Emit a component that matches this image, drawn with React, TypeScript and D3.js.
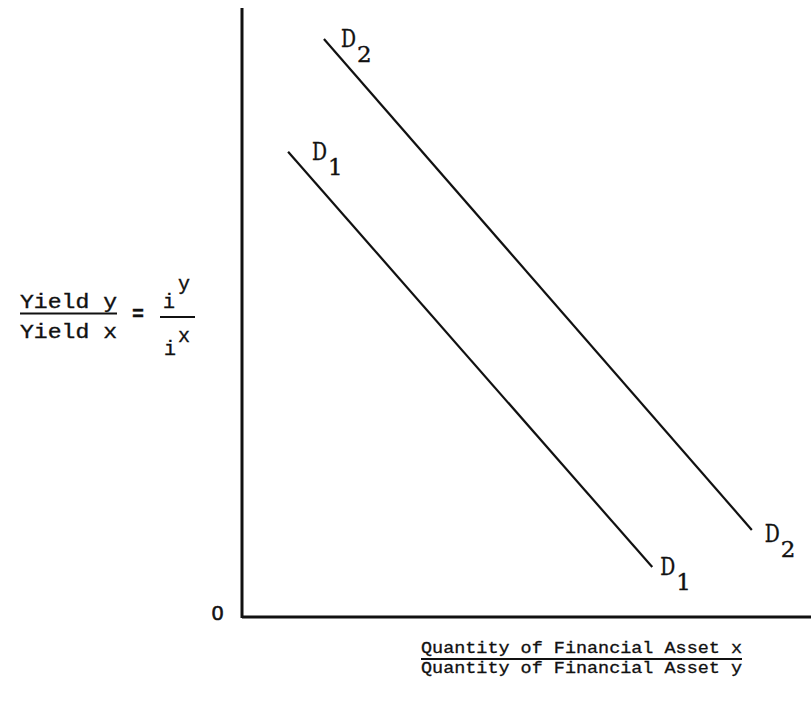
import React from "react";
import * as d3 from "d3";

// ---- data (abstract units: 0..100 on both axes) ----
const curveNames = ["D1", "D2"];
const curveSubs = ["1", "2"];
const d1Points: [number, number][] = [
  [8.1, 76.4],
  [72.1, 8.2],
];
const d2Points: [number, number][] = [
  [14.4, 94.9],
  [89.6, 14.3],
];
const yLabelTop = "Yield y";
const yLabelBottom = "Yield x";
const xLabelTop = "Quantity of Financial Asset x";
const xLabelBottom = "Quantity of Financial Asset y";
const originLabel = "0";

const W = 811;
const H = 701;

export default function App() {
  const x = d3.scaleLinear().domain([0, 100]).range([242, 811]);
  const y = d3.scaleLinear().domain([0, 100]).range([617, 8]);
  const line = d3
    .line<[number, number]>()
    .x((d) => x(d[0]))
    .y((d) => y(d[1]));

  const curves = [d1Points, d2Points];
  const serif = "'DejaVu Serif', 'Liberation Serif', serif";
  const mono = "'Liberation Mono', 'DejaVu Sans Mono', monospace";
  const ink = "#111";

  // label offsets (pixels) relative to line endpoints: [start, end]
  const labelOffsets = [
    [
      [24, 8],
      [8, 8],
    ],
    [
      [17, 8],
      [13, 12],
    ],
  ];

  return (
    <svg
      width={W}
      height={H}
      style={{ position: "absolute", left: 0, top: 0, background: "#fff" }}
    >
      <rect x={0} y={0} width={W} height={H} fill="#fff" />
      {/* axes */}
      <line x1={x(0)} y1={y(100)} x2={x(0)} y2={y(0) + 1} stroke={ink} strokeWidth={3} />
      <line x1={x(0)} y1={y(0)} x2={x(100)} y2={y(0)} stroke={ink} strokeWidth={3} />

      {/* demand curves */}
      {curves.map((pts, i) => (
        <path key={i} d={line(pts) || ""} fill="none" stroke={ink} strokeWidth={2.2} />
      ))}

      {/* curve labels */}
      {curves.map((pts, i) =>
        pts.map((p, j) => {
          const [dx, dy] = labelOffsets[i][j];
          const bx = x(p[0]) + dx;
          const by = y(p[1]) + dy;
          return (
            <text
              key={`${i}-${j}`}
              x={bx}
              y={by}
              fontFamily={serif}
              fill={ink}
              stroke={ink}
              strokeWidth={0.4}
              fontSize={25}
            >
              <tspan textLength={15} lengthAdjust="spacingAndGlyphs">
                {curveNames[i].charAt(0)}
              </tspan>
              <tspan x={bx + 16} dy={15} fontSize={23}>
                {curveSubs[i]}
              </tspan>
            </text>
          );
        })
      )}

      {/* y-axis label */}
      <g fontFamily={mono} fill={ink} stroke={ink} strokeWidth={0.35}>
        <text x={20} y={308} fontSize={19.5} textLength={97} lengthAdjust="spacingAndGlyphs">
          {yLabelTop}
        </text>
        <line x1={20} y1={313.5} x2={117} y2={313.5} stroke={ink} strokeWidth={2} />
        <text x={20} y={338} fontSize={19.5} textLength={97} lengthAdjust="spacingAndGlyphs">
          {yLabelBottom}
        </text>
        <text x={138} y={320} fontSize={20} fontWeight="bold" textAnchor="middle">
          =
        </text>
        <text x={169} y={308} fontSize={20} textAnchor="middle">
          i
        </text>
        <text x={184} y={290} fontSize={20} textAnchor="middle">
          y
        </text>
        <line x1={160} y1={317} x2={195} y2={317} stroke={ink} strokeWidth={2} />
        <text x={170} y={355} fontSize={20} textAnchor="middle">
          i
        </text>
        <text x={184} y={342} fontSize={20} textAnchor="middle">
          x
        </text>
      </g>

      {/* x-axis label */}
      <g fontFamily={mono} fill={ink} stroke={ink} strokeWidth={0.3}>
        <text x={421} y={653} fontSize={16} textLength={321} lengthAdjust="spacingAndGlyphs">
          {xLabelTop}
        </text>
        <line x1={421} y1={659} x2={742} y2={659} stroke={ink} strokeWidth={2} />
        <text x={421} y={673} fontSize={16} textLength={321} lengthAdjust="spacingAndGlyphs">
          {xLabelBottom}
        </text>
      </g>

      {/* origin */}
      <text
        x={217.5}
        y={620}
        fontSize={21}
        textAnchor="middle"
        fontFamily="'Liberation Sans', Arial, sans-serif"
        fill={ink}
        stroke={ink}
        strokeWidth={0.6}
      >
        {originLabel}
      </text>
    </svg>
  );
}
